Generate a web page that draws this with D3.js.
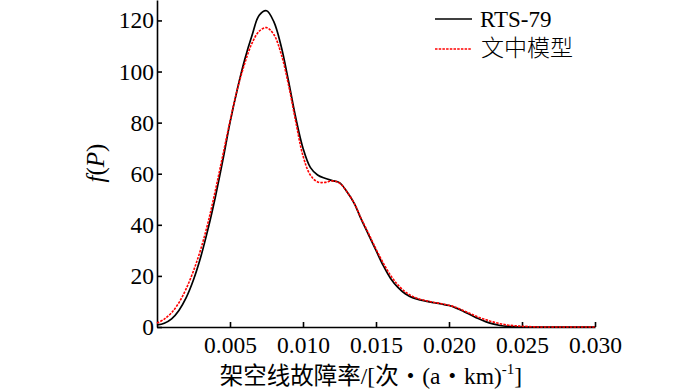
<!DOCTYPE html>
<html>
<head>
<meta charset="utf-8">
<script src="https://cdn.jsdelivr.net/npm/d3@7"></script>
<style>
  body { margin: 0; background: #fff; }
  text { font-family: "Liberation Serif", "Noto Sans CJK SC", serif; }
</style>
</head>
<body>
<div id="chart"></div>
<script>
// failure rate (x values)
var rates = [0, 0.0005, 0.001, 0.0015, 0.002, 0.0025, 0.003, 0.0035, 0.004, 0.0045,
  0.005, 0.0055, 0.006, 0.0065, 0.007, 0.0075, 0.008, 0.0085, 0.009, 0.0095,
  0.010, 0.0105, 0.011, 0.0115, 0.012, 0.0125, 0.013, 0.0135, 0.014, 0.0145,
  0.015, 0.0155, 0.016, 0.0165, 0.017, 0.0175, 0.018, 0.0185, 0.019, 0.0195,
  0.020, 0.0205, 0.021, 0.0215, 0.022, 0.0225, 0.023, 0.0235, 0.024, 0.0245,
  0.025, 0.026, 0.027, 0.028, 0.029, 0.030];

// RTS-79
var rtsValues = [0.8, 1.5, 3.2, 6.5, 11.5, 18.5, 27.5, 38.5, 51, 65,
  80, 93, 104.5, 114, 122, 123.8, 119.5, 110, 96.5, 82,
  70, 62.5, 59.5, 58.2, 57.3, 56.5, 53, 48.5, 42, 36,
  30, 24, 19, 15.5, 13, 11.5, 10.6, 10, 9.5, 9,
  8.4, 7.4, 6.1, 4.7, 3.3, 2.1, 1.2, 0.6, 0.25, 0.1,
  0, 0, 0, 0, 0, 0];

// 文中模型
var modelValues = [1.5, 3.1, 5.6, 9.5, 15, 22, 30.5, 41, 53.5, 67,
  80.5, 93, 103, 111, 115.8, 117.2, 114.5, 107, 95, 80.5,
  67, 59.5, 56.8, 56.6, 57.2, 56.3, 53, 48.5, 42.3, 36.5,
  30.5, 25, 20.2, 16.5, 13.8, 12, 10.9, 10.2, 9.6, 9.1,
  8.5, 7.6, 6.4, 5.1, 3.9, 2.9, 2.0, 1.3, 0.8, 0.5,
  0.3, 0.05, 0, 0, 0, 0];

var xTicks = [0.005, 0.010, 0.015, 0.020, 0.025, 0.030];
var yTicks = [0, 20, 40, 60, 80, 100, 120];
var seriesNames = ["RTS-79", "文中模型"];

var width = 700, height = 390;

var svg = d3.select("#chart")
  .append("svg")
    .attr("width", width)
    .attr("height", height);

var x = d3.scaleLinear()
  .domain([0, 0.030])
  .range([157, 595]);

var y = d3.scaleLinear()
  .domain([0, 128])
  .range([327, 0]);

// X axis
var xAxis = svg.append("g")
  .attr("transform", "translate(0,327)")
  .call(d3.axisBottom(x)
    .tickValues(xTicks)
    .tickFormat(d3.format(".3f"))
    .tickSizeInner(-5)
    .tickSizeOuter(0)
    .tickPadding(9));
xAxis.selectAll("text")
  .attr("font-size", 23.5)
  .attr("font-family", "Liberation Serif")
  .style("fill", "black");

// Y axis
var yAxis = svg.append("g")
  .attr("transform", "translate(157,0)")
  .call(d3.axisLeft(y)
    .tickValues(yTicks)
    .tickSizeInner(-5)
    .tickSizeOuter(0)
    .tickPadding(3));
yAxis.selectAll("text")
  .attr("font-size", 23.5)
  .attr("font-family", "Liberation Serif")
  .style("fill", "black");

svg.selectAll(".domain, .tick line")
  .attr("stroke", "black")
  .attr("stroke-width", 1.6);

// Lines
var line = function (vals) {
  return d3.line()
    .x(function (d, i) { return x(rates[i]); })
    .y(function (d) { return y(d); })
    .curve(d3.curveCatmullRom.alpha(0.5))(vals);
};

svg.append("path")
  .attr("d", line(rtsValues))
  .attr("fill", "none")
  .attr("stroke", "black")
  .attr("stroke-width", 1.7);

svg.append("path")
  .attr("d", line(modelValues))
  .attr("fill", "none")
  .attr("stroke", "#ff0000")
  .attr("stroke-width", 1.6)
  .attr("stroke-dasharray", "2.5,1.2");

// Legend
var legend = svg.append("g");
legend.append("line")
  .attr("x1", 435).attr("x2", 472)
  .attr("y1", 19).attr("y2", 19)
  .attr("stroke", "black")
  .attr("stroke-width", 1.6);
legend.append("text")
  .attr("x", 480).attr("y", 27)
  .attr("font-size", 23)
  .text(seriesNames[0]);
legend.append("line")
  .attr("x1", 435).attr("x2", 472)
  .attr("y1", 49).attr("y2", 49)
  .attr("stroke", "#ff0000")
  .attr("stroke-width", 1.6)
  .attr("stroke-dasharray", "2.5,1.2");
legend.append("text")
  .attr("x", 481).attr("y", 56)
  .attr("font-size", 23)
  .attr("font-family", "Noto Sans CJK SC")
  .attr("font-weight", 300)
  .text(seriesNames[1]);

// Axis titles
var xTitle = svg.append("text")
  .attr("x", 371)
  .attr("y", 384)
  .attr("font-size", 23.5)
  .style("text-anchor", "middle");
xTitle.append("tspan").text("架空线故障率/[次・(a・km)");
xTitle.append("tspan").attr("font-size", 15).attr("dy", -10).text("-1");
xTitle.append("tspan").attr("dy", 10).text("]");

var yTitle = svg.append("text")
  .attr("transform", "translate(104,163) rotate(-90)")
  .attr("font-size", 25)
  .style("text-anchor", "middle");
yTitle.append("tspan").attr("font-style", "italic").text("f");
yTitle.append("tspan").text("(");
yTitle.append("tspan").attr("font-style", "italic").text("P");
yTitle.append("tspan").text(")");
</script>
</body>
</html>
